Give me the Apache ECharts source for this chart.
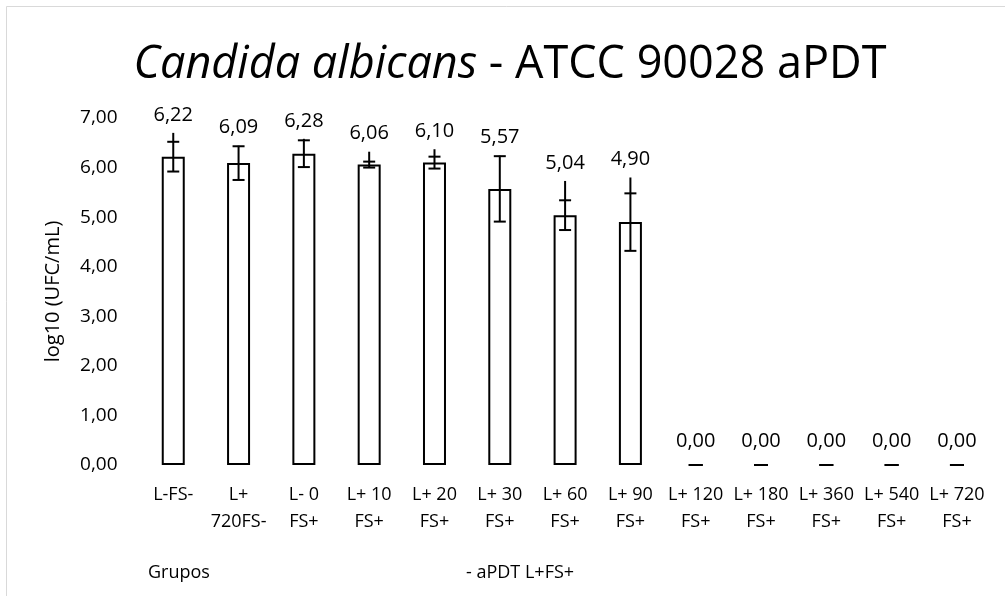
<!DOCTYPE html>
<html>
<head>
<meta charset="utf-8">
<script src="https://cdn.jsdelivr.net/npm/echarts@6/dist/echarts.min.js"></script>
<style>
html,body{margin:0;padding:0;background:#fff;}
#chart{width:1005px;height:596px;}
</style>
</head>
<body>
<div id="chart"></div>
<script>
// ---- data ----
const categories = ['L-FS-', 'L+\n720FS-', 'L- 0\nFS+', 'L+ 10\nFS+', 'L+ 20\nFS+', 'L+ 30\nFS+', 'L+ 60\nFS+', 'L+ 90\nFS+', 'L+ 120\nFS+', 'L+ 180\nFS+', 'L+ 360\nFS+', 'L+ 540\nFS+', 'L+ 720\nFS+'];
const means = [6.22, 6.09, 6.28, 6.06, 6.10, 5.57, 5.04, 4.90, 0, 0, 0, 0, 0];
const sd = [0.30, 0.34, 0.27, 0.06, 0.12, 0.66, 0.30, 0.58, 0, 0, 0, 0, 0];
const whiskerTop = [6.70, 6.44, 6.58, 6.32, 6.37, 6.24, 5.73, 5.80, 0, 0, 0, 0, 0];
const yTicks = [0, 1, 2, 3, 4, 5, 6, 7];
const titleItalic = 'Candida albicans';
const titleRest = ' - ATCC 90028 aPDT';
const yName = 'log10 (UFC/mL)';
const footLeft = 'Grupos';
const footRight = '- aPDT L+FS+';

const fmt = v => v.toFixed(2).replace('.', ',');
const FONT = 'Open Sans';

const chart = echarts.init(document.getElementById('chart'), null, {renderer: 'canvas'});

const barData = means.map(v => ({
  value: v,
  itemStyle: v === 0 ? {borderColor: 'rgba(0,0,0,0)'} : {}
}));
const errData = means.map((m, i) => [i, m, sd[i], whiskerTop[i]]);

function renderErr(params, api) {
  const i = api.value(0), m = api.value(1), s = api.value(2), t = api.value(3);
  const x = api.coord([i, m])[0];
  const yHi = api.coord([i, m + s])[1];
  const yLo = api.coord([i, m - s])[1];
  const yTop = api.coord([i, Math.max(t, m + s)])[1];
  const cw = m === 0 ? 7 : 6;
  const st = {stroke: '#000', lineWidth: 2};
  return {
    type: 'group',
    children: [
      {type: 'line', shape: {x1: x, y1: yTop, x2: x, y2: yLo}, style: st},
      {type: 'line', shape: {x1: x - cw, y1: yHi, x2: x + cw, y2: yHi}, style: st},
      {type: 'line', shape: {x1: x - cw, y1: yLo, x2: x + cw, y2: yLo}, style: st},
      {type: 'text', x: x, y: yTop - (m === 0 ? 24 : 18), style: {
        text: fmt(m), fill: '#000', font: '20px "' + FONT + '"',
        align: 'center', verticalAlign: 'middle'
      }}
    ]
  };
}

const option = {
  backgroundColor: '#fff',
  animation: false,
  title: [{
    text: '{i|' + titleItalic + '}{n|' + titleRest + '}',
    left: 510, top: 43, textAlign: 'center', padding: 0,
    textStyle: {
      fontWeight: 'normal',
      rich: {
        i: {fontFamily: FONT, fontSize: 45, fontStyle: 'italic', fontWeight: 'normal', color: '#000'},
        n: {fontFamily: FONT, fontSize: 45, fontWeight: 'normal', color: '#000'}
      }
    }
  }, {
    text: footLeft, left: 148, top: 564, padding: 0,
    textStyle: {fontFamily: FONT, fontSize: 18, fontWeight: 'normal', color: '#000'}
  }, {
    text: footRight, left: 466, top: 564, padding: 0,
    textStyle: {fontFamily: FONT, fontSize: 18, fontWeight: 'normal', color: '#000'}
  }],
  graphic: [{
    type: 'rect', shape: {x: 6.5, y: 6.5, width: 1010, height: 600},
    style: {fill: 'none', stroke: '#d9d9d9', lineWidth: 1}, silent: true
  }],
  grid: {left: 140.6, right: 15.4, top: 118, bottom: 131},
  xAxis: {
    type: 'category', data: categories,
    axisLine: {show: false}, axisTick: {show: false},
    axisLabel: {interval: 0, margin: 16, fontFamily: FONT, fontSize: 18, lineHeight: 27, color: '#000'}
  },
  yAxis: {
    type: 'value', min: yTicks[0], max: yTicks[yTicks.length - 1], interval: 1,
    name: yName, nameLocation: 'middle', nameGap: 77,
    nameTextStyle: {fontFamily: FONT, fontSize: 20, color: '#000'},
    axisLine: {show: false}, axisTick: {show: false}, splitLine: {show: false},
    axisLabel: {formatter: v => fmt(v), fontFamily: FONT, fontSize: 19, color: '#000', margin: 23}
  },
  series: [{
    type: 'bar', data: barData, barWidth: 23,
    itemStyle: {color: '#fff', borderColor: '#000', borderWidth: 2}
  }, {
    type: 'custom', data: errData, renderItem: renderErr, clip: false, z: 5,
    encode: {x: 0, y: 1}
  }]
};
chart.setOption(option);
</script>
</body>
</html>
